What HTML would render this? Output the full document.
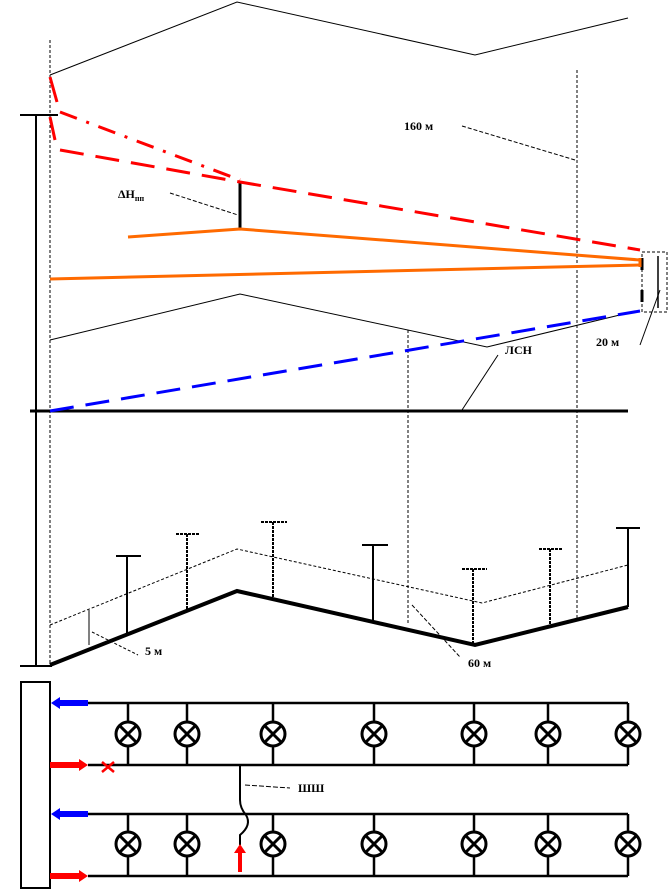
<!DOCTYPE html>
<html><head><meta charset="utf-8"><style>
html,body{margin:0;padding:0;background:#fff}
svg{display:block}
text{font-family:"Liberation Serif",serif;font-weight:bold;font-size:12px;fill:#000}
</style></head><body>
<svg width="670" height="891" viewBox="0 0 670 891" xmlns="http://www.w3.org/2000/svg">
<defs>
<g id="lamp"><circle r="12" fill="#fff" stroke="#000" stroke-width="3"/><path d="M-8,-8L8,8M8,-8L-8,8" stroke="#000" stroke-width="3"/></g>
</defs>
<g fill="none" stroke="#000">
<polyline points="50,75 237,2 475,55 628,18" stroke-width="1"/>
<polyline points="50,340 240,294 487,347 628,313" stroke-width="1"/>
<line x1="50" y1="40" x2="50" y2="665" stroke-width="1" stroke-dasharray="3,2"/>
<line x1="577" y1="70" x2="577" y2="620" stroke-width="1" stroke-dasharray="3,2"/>
<line x1="408" y1="330" x2="408" y2="625" stroke-width="1" stroke-dasharray="3,2"/>
<line x1="36" y1="116" x2="36" y2="665" stroke-width="2"/>
<line x1="20" y1="115" x2="58" y2="115" stroke-width="2"/>
<line x1="20" y1="666" x2="52" y2="666" stroke-width="2"/>
<line x1="30" y1="411" x2="628" y2="411" stroke-width="3"/>
<polyline points="50,665 237,591 475,645 628,607" stroke-width="4"/>
<polyline points="50,625 237,549 482,603 628,565" stroke-width="1" stroke-dasharray="3,2"/>
<g stroke-width="2">
<path d="M127,556V635M116,556H141"/>
<path d="M187,534V611M176,534H200" stroke-dasharray="3,1"/>
<path d="M273,522V599M261,522H287" stroke-dasharray="3,1"/>
<path d="M373,545V622M362,545H388"/>
<path d="M473,569V644M462,569H487" stroke-dasharray="3,1"/>
<path d="M550,549V626M539,549H563" stroke-dasharray="3,1"/>
<path d="M628,528V607M616,528H640"/>
</g>
<line x1="89" y1="610" x2="89" y2="645" stroke-width="1"/>
<line x1="92" y1="632" x2="138" y2="655" stroke-width="1" stroke-dasharray="3,2"/>
<line x1="412" y1="605" x2="460" y2="657" stroke-width="1" stroke-dasharray="4,2"/>
<line x1="462" y1="126" x2="575" y2="160" stroke-width="1" stroke-dasharray="4,2"/>
<line x1="498" y1="355" x2="462" y2="410" stroke-width="1"/>
<line x1="170" y1="193" x2="238" y2="215" stroke-width="1" stroke-dasharray="4,2"/>
<line x1="240" y1="182" x2="240" y2="228" stroke-width="3"/>
<rect x="642" y="252" width="25" height="60" stroke-width="1" stroke-dasharray="3,2"/>
<line x1="658" y1="256" x2="658" y2="308" stroke-width="1.5"/>
<line x1="642" y1="258" x2="642" y2="311" stroke-width="3" stroke-dasharray="12,20"/>
<line x1="660" y1="290" x2="640" y2="345" stroke-width="1"/>
</g>
<g fill="none" stroke="#f00" stroke-width="3">
<polyline points="50,77 57,102" />
<polyline points="60,112 240,180" stroke-dasharray="18,10,3,10"/>
<polyline points="50,117 55,140"/>
<polyline points="60,150 240,182 640,250" stroke-dasharray="24,12"/>
</g>
<g fill="none" stroke="#ff6a00" stroke-width="3">
<polyline points="128,237 240,229 640,260"/>
<polyline points="50,279 640,265"/>
<line x1="640" y1="258" x2="640" y2="267"/>
</g>
<line x1="50" y1="411" x2="640" y2="311" stroke="#0000ff" stroke-width="3" stroke-dasharray="24,12"/>
<text x="404" y="130">160 м</text>
<text x="118" y="198" font-size="13">ΔH<tspan font-size="8" dy="3">пп</tspan></text>
<text x="596" y="346">20 м</text>
<text x="505" y="354" font-size="9">ЛСН</text>
<text x="145" y="655">5 м</text>
<text x="468" y="667">60 м</text>
<rect x="21" y="682" width="29" height="206" fill="#fff" stroke="#000" stroke-width="2"/>
<g stroke="#000" stroke-width="2.5" fill="none">
<line x1="88" y1="703" x2="628" y2="703"/>
<line x1="88" y1="765" x2="628" y2="765"/>
<line x1="88" y1="814" x2="628" y2="814"/>
<line x1="88" y1="876" x2="628" y2="876"/>
<line x1="628" y1="703" x2="628" y2="765"/>
<line x1="628" y1="814" x2="628" y2="876"/>
<path d="M128,703V765M187,703V765M273,703V765M374,703V765M474,703V765M548,703V765"/>
<path d="M128,814V876M187,814V876M273,814V876M374,814V876M474,814V876M548,814V876"/>
<path d="M240,765V800Q240,808 246,815Q252,825 240,835V845" stroke-width="2"/>
<line x1="245" y1="785" x2="290" y2="788" stroke-width="1" stroke-dasharray="5,2"/>
</g>
<g>
<use href="#lamp" x="128" y="734"/><use href="#lamp" x="187" y="734"/><use href="#lamp" x="273" y="734"/><use href="#lamp" x="374" y="734"/><use href="#lamp" x="474" y="734"/><use href="#lamp" x="548" y="734"/><use href="#lamp" x="628" y="734"/>
<use href="#lamp" x="128" y="844"/><use href="#lamp" x="187" y="844"/><use href="#lamp" x="273" y="844"/><use href="#lamp" x="374" y="844"/><use href="#lamp" x="474" y="844"/><use href="#lamp" x="548" y="844"/><use href="#lamp" x="628" y="844"/>
</g>
<g fill="#0000ff"><path d="M51,703L60,697V700H88V706H60V709Z"/><path d="M51,814L60,808V811H88V817H60V820Z"/></g>
<g fill="#f00"><path d="M88,765L79,759V762H50V768H79V771Z"/><path d="M88,876L79,870V873H50V879H79V882Z"/>
<path d="M240,844L234,853H238V872H242V853H246Z"/>
<path d="M102,762L114,772M114,762L102,772" stroke="#f00" stroke-width="2.5"/></g>
<text x="298" y="792">ШШ</text>
</svg>
</body></html>
